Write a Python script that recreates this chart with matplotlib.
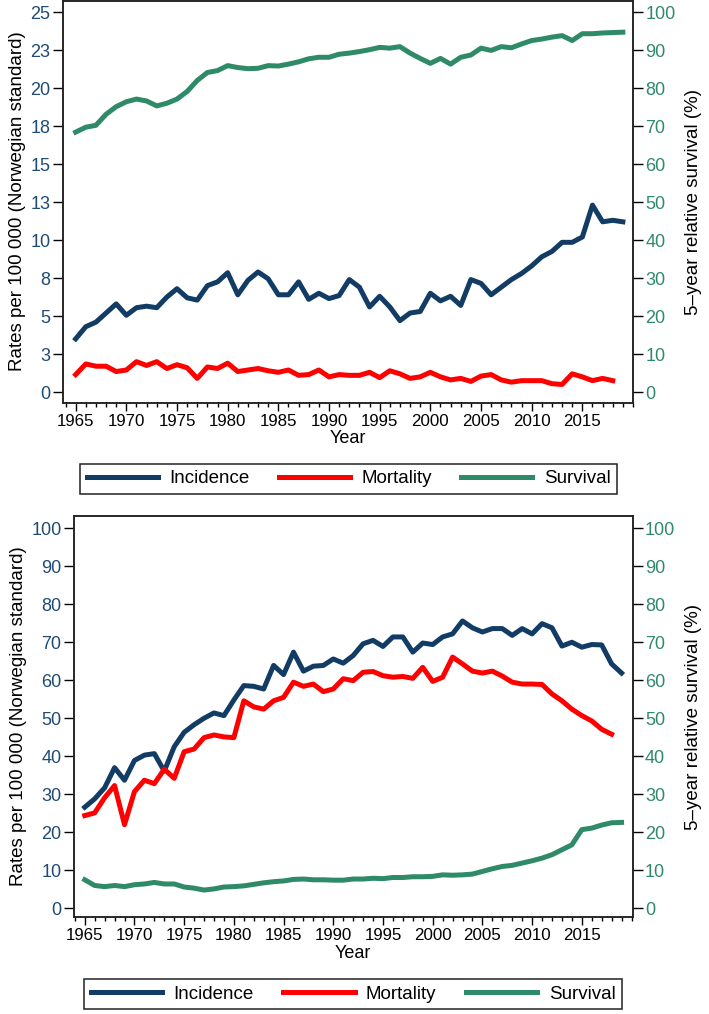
import matplotlib
matplotlib.use('Agg')
import matplotlib.pyplot as plt
from matplotlib.ticker import MultipleLocator

plt.rcParams['font.family'] = ['Liberation Sans', 'DejaVu Sans']

# Years (x axis)
years = list(range(1965, 2020))
years_mort = list(range(1965, 2019))

# Top panel: rates per 100 000 (left axis), survival % (right axis)
top_incidence = [3.5, 4.3, 4.6, 5.2, 5.8, 5.05, 5.55, 5.65, 5.55, 6.25,
                 6.8, 6.2, 6.05, 7.0, 7.25, 7.85, 6.4, 7.35, 7.9, 7.45,
                 6.4, 6.4, 7.25, 6.1, 6.5, 6.15, 6.35, 7.4, 6.9, 5.6,
                 6.3, 5.6, 4.7, 5.2, 5.3, 6.5, 6.0, 6.3, 5.7, 7.4,
                 7.15, 6.4, 6.9, 7.4, 7.8, 8.3, 8.9, 9.25, 9.85, 9.85,
                 10.2, 12.3, 11.2, 11.3, 11.2]
top_mortality = [1.15, 1.85, 1.7, 1.7, 1.35, 1.45, 2.0, 1.75, 2.0, 1.55,
                 1.8, 1.6, 0.9, 1.65, 1.55, 1.9, 1.35, 1.45, 1.55, 1.4,
                 1.3, 1.45, 1.1, 1.15, 1.45, 1.0, 1.15, 1.1, 1.1, 1.3,
                 0.95, 1.4, 1.2, 0.9, 1.0, 1.3, 1.0, 0.8, 0.9, 0.7,
                 1.05, 1.15, 0.8, 0.65, 0.75, 0.75, 0.75, 0.55, 0.5, 1.2,
                 1.0, 0.75, 0.9, 0.75]
top_survival = [68.4, 69.7, 70.2, 73.1, 75.1, 76.4, 77.1, 76.6, 75.3, 76.0,
                77.1, 79.1, 82.0, 84.1, 84.6, 85.9, 85.4, 85.1, 85.2, 85.9,
                85.8, 86.3, 86.9, 87.7, 88.1, 88.1, 88.9, 89.2, 89.6, 90.1,
                90.7, 90.5, 90.9, 89.2, 87.8, 86.5, 87.8, 86.3, 88.1, 88.7,
                90.5, 89.9, 90.9, 90.6, 91.6, 92.5, 92.9, 93.4, 93.8, 92.5,
                94.3, 94.3, 94.5, 94.6, 94.7]

# Bottom panel
bot_incidence = [26.6, 28.8, 31.7, 37.0, 33.7, 38.9, 40.3, 40.7, 36.1, 42.5,
                 46.3, 48.3, 50.0, 51.4, 50.7, 54.8, 58.6, 58.4, 57.7, 63.9,
                 61.5, 67.4, 62.4, 63.7, 63.9, 65.6, 64.5, 66.5, 69.6, 70.5,
                 68.9, 71.4, 71.4, 67.4, 69.8, 69.4, 71.4, 72.2, 75.6, 73.8,
                 72.7, 73.6, 73.6, 71.8, 73.6, 72.2, 74.9, 73.8, 69.0, 70.0,
                 68.7, 69.4, 69.3, 64.3, 61.9]
bot_mortality = [24.4, 25.1, 29.1, 32.3, 22.0, 30.7, 33.7, 32.8, 36.6, 34.2,
                 41.2, 41.9, 44.9, 45.6, 45.1, 44.9, 54.6, 53.0, 52.4, 54.6,
                 55.5, 59.5, 58.4, 59.0, 57.0, 57.7, 60.4, 59.9, 62.1, 62.3,
                 61.2, 60.8, 61.0, 60.5, 63.4, 59.7, 60.8, 66.1, 64.3, 62.4,
                 61.9, 62.4, 61.1, 59.5, 59.0, 59.0, 58.9, 56.4, 54.6, 52.4,
                 50.7, 49.3, 47.1, 45.8]
bot_survival = [7.5, 6.0, 5.7, 6.0, 5.7, 6.2, 6.4, 6.8, 6.4, 6.4,
                5.6, 5.3, 4.8, 5.1, 5.6, 5.7, 5.9, 6.3, 6.7, 7.0,
                7.2, 7.6, 7.7, 7.5, 7.5, 7.4, 7.4, 7.7, 7.7, 7.9,
                7.8, 8.1, 8.1, 8.3, 8.3, 8.4, 8.8, 8.7, 8.8, 9.0,
                9.7, 10.4, 11.0, 11.3, 11.9, 12.5, 13.2, 14.1, 15.4, 16.7,
                20.7, 21.1, 21.9, 22.5, 22.6]

top_ticks = [0, 2.5, 5, 7.5, 10, 12.5, 15, 17.5, 20, 22.5, 25]
top_ticklabels = ['0', '3', '5', '8', '10', '13', '15', '18', '20', '23', '25']
pct_ticks = [0, 10, 20, 30, 40, 50, 60, 70, 80, 90, 100]
year_ticks = [1965, 1970, 1975, 1980, 1985, 1990, 1995, 2000, 2005, 2010, 2015]

NAVY = '#123c64'
NAVY_TXT = '#1f4b75'
RED = '#ff0000'
GREEN = '#2f8a68'
LW = 3.6
FS_X = 12.2
FS_Y = 13
FS_LAB = 13.5
FS_LEG = 13.5

W, H = 709, 1014
fig = plt.figure(figsize=(W / 100, H / 100), dpi=100)


def px_axes(left, top, right, bottom):
    return fig.add_axes([left / W, 1 - bottom / H, (right - left) / W, (bottom - top) / H])


def style_axes(ax, ax2, xlim, ylim, yticks, ylabels, scale):
    for a in (ax, ax2):
        for s in a.spines.values():
            s.set_linewidth(1.1)
            s.set_color('#222222')
    ax.set_xlim(*xlim)
    ax.set_ylim(*ylim)
    ax2.set_ylim(ylim[0] * scale, ylim[1] * scale)
    ax.set_xticks(year_ticks)
    ax.xaxis.set_minor_locator(MultipleLocator(1))
    ax.tick_params(axis='x', which='major', length=6, width=1, pad=2, labelsize=FS_X)
    ax.tick_params(axis='x', which='minor', length=3, width=1)
    ax.set_yticks(yticks)
    ax.set_yticklabels(ylabels)
    ax.tick_params(axis='y', length=7, width=1, pad=2, labelsize=FS_Y, labelcolor=NAVY_TXT)
    ax2.set_yticks(pct_ticks)
    ax2.tick_params(axis='y', length=7, width=1, pad=2, labelsize=FS_Y, labelcolor=GREEN)
    ax.set_xlabel('Year', fontsize=13, labelpad=1)
    ax.set_ylabel('Rates per 100 000 (Norwegian standard)', fontsize=FS_LAB, labelpad=3)
    ax2.set_ylabel('5\u2013year relative survival (%)', fontsize=FS_LAB, labelpad=7)


# ---- top panel ----
ax1 = px_axes(63, 0.5, 633, 402.7)
ax1b = ax1.twinx()
h1, = ax1.plot(years, top_incidence, color=NAVY, lw=LW, label='Incidence')
h2, = ax1.plot(years_mort, top_mortality, color=RED, lw=LW, label='Mortality')
h3, = ax1b.plot(years, top_survival, color=GREEN, lw=LW, label='Survival')
style_axes(ax1, ax1b, (1963.75, 2020.0), (-0.70, 25.76), top_ticks, top_ticklabels, 4)

# ---- bottom panel ----
ax2 = px_axes(74, 515.7, 632.5, 917.3)
ax2b = ax2.twinx()
g1, = ax2.plot(years, bot_incidence, color=NAVY, lw=LW, label='Incidence')
g2, = ax2.plot(years_mort, bot_mortality, color=RED, lw=LW, label='Mortality')
g3, = ax2b.plot(years, bot_survival, color=GREEN, lw=LW, label='Survival')
style_axes(ax2, ax2b, (1963.92, 2020.1), (-2.37, 103.3), pct_ticks,
           [str(t) for t in pct_ticks], 1)


# ---- legends ----
def add_legend(handles, left, top, right, bottom):
    leg = fig.legend(handles, [h.get_label() for h in handles], ncol=3,
                     loc='upper left', mode='expand',
                     bbox_to_anchor=(left / W, 1 - bottom / H, (right - left) / W, (bottom - top) / H),
                     fontsize=FS_LEG, frameon=True, fancybox=False, framealpha=1,
                     edgecolor='#222222', handlelength=3.8, handletextpad=0.6,
                     borderpad=0.35, borderaxespad=0, columnspacing=1.0)
    leg.get_frame().set_linewidth(1.1)
    return leg


add_legend([h1, h2, h3], 80, 463.5, 617, 498.3)
add_legend([g1, g2, g3], 84, 979, 622, 1013)

fig.savefig('out.png', dpi=100)
